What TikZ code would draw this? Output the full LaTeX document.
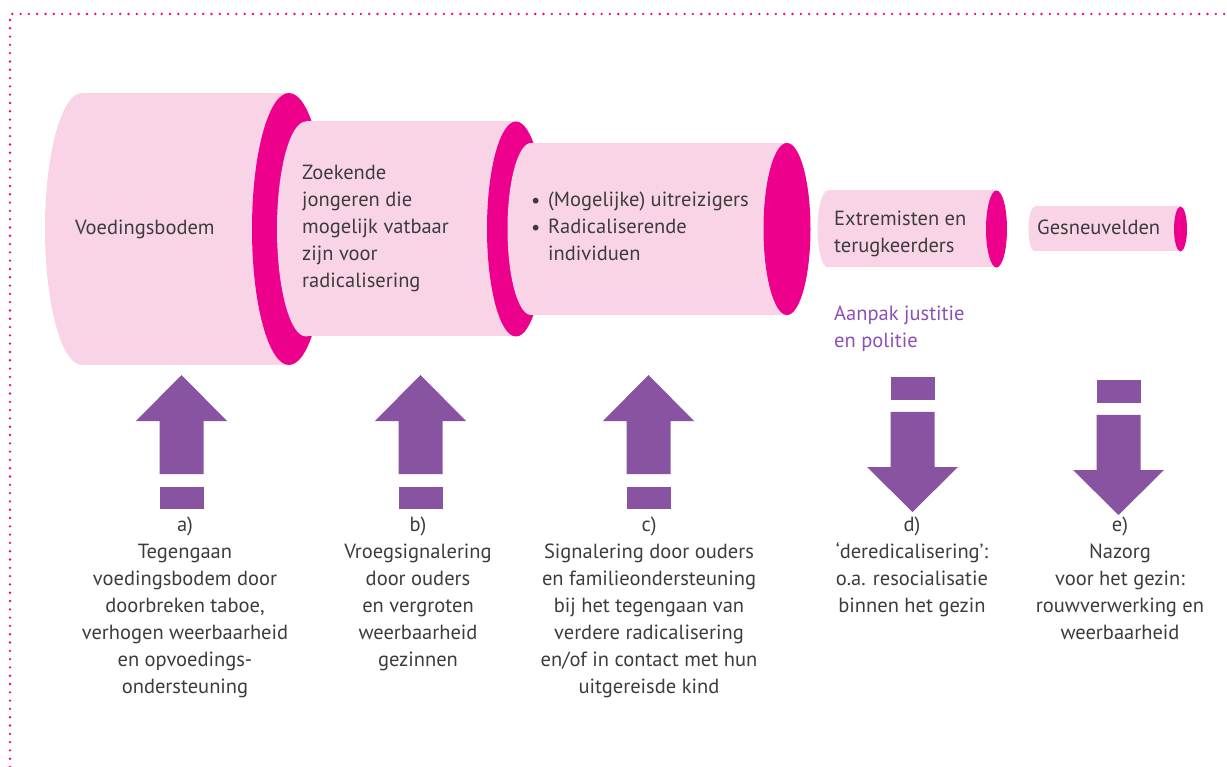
\documentclass[tikz,border=0pt]{standalone}
\usepackage{fontspec}
\setmainfont{PT Sans}
\definecolor{bodypink}{HTML}{F9D4E6}
\definecolor{ringmagenta}{HTML}{EC008C}
\definecolor{arrowpurple}{HTML}{8853A0}
\definecolor{textpurple}{HTML}{8E4FB3}
\definecolor{textgrey}{HTML}{3C3C3B}

\begin{document}
\begin{tikzpicture}
  [x=1pt,y=-1pt,every node/.style={inner sep=0pt,text=textgrey,font=\fontsize{20.5}{27}\selectfont}]
  \useasboundingbox (0,0) rectangle (1227,767);
  \draw[ringmagenta,line width=2.6pt,line cap=round,dash pattern=on 0pt off 8.3pt] (10,767) -- (10,14) -- (1227,14);

  % cylinders: left centre / right centre / radii
  \foreach \l/\r/\rx/\ry in {82/289/37/136,306/516/29/107.5,531/787/23.5/86,828/996.5/10.5/38.5,1035/1180.5/6.5/22.5}
  {
    \fill[bodypink] (\l,229) ellipse [x radius=\rx, y radius=\ry];
    \fill[bodypink] (\l,{229-\ry}) rectangle (\r,{229+\ry});
    \fill[ringmagenta] (\r,229) ellipse [x radius=\rx, y radius=\ry];
  }

  \foreach \x in {181.5,420.5,648.5}
  {
    \fill[arrowpurple] (\x,375) -- ++(45.5,46) -- ++(-23.5,0) -- ++(0,53) -- ++(-44,0) -- ++(0,-53) -- ++(-23.5,0) -- cycle;
    \fill[arrowpurple] ({\x-22},487) rectangle ({\x+22},509);
  }
  \foreach \x/\y in {912.5/377,1118.5/380}
  {
    \fill[arrowpurple] ({\x-22},\y) rectangle ({\x+22},{\y+23});
    \fill[arrowpurple] ({\x-22},{\y+35}) -- ++(0,55) -- ++(-23.5,0) -- ++(45.5,45) -- ++(45.5,-45) -- ++(-23.5,0) -- ++(0,-55) -- cycle;
  }

  % multi-line nodes sit on the baseline of their last line
  \node (voeding) [anchor=base west] at (75,235) {Voedingsbodem};
  \node (zoekend) [anchor=base west,align=left] at (302,288) {Zoekende\\jongeren die\\mogelijk vatbaar\\zijn voor\\radicalisering};
  \node (bul1) [anchor=base west] at (531,208) {\textbullet};
  \node (bul2) [anchor=base west] at (531,235) {\textbullet};
  \node (uitreis) [anchor=base west,align=left] at (548,261) {(Mogelijke) uitreizigers\\Radicaliserende\\individuen};
  \node (extrem) [anchor=base west,align=left] at (834,253) {Extremisten en\\terugkeerders};
  \node (gesneuv) [anchor=base west] at (1037,235) {Gesneuvelden};
  \node (justitie) [anchor=base west,align=left,text=textpurple] at (834,348) {Aanpak justitie\\en politie};

  \node (la) [anchor=base,align=center] at (185,693) {a)\\Tegengaan\\voedingsbodem door\\doorbreken taboe,\\verhogen weerbaarheid\\en opvoedings-\\ondersteuning};
  \node (lb) [anchor=base,align=center] at (418,666) {b)\\Vroegsignalering\\door ouders\\en vergroten\\weerbaarheid\\gezinnen};
  \node (lc) [anchor=base,align=center] at (649,693) {c)\\Signalering door ouders\\en familieondersteuning\\bij het tegengaan van\\verdere radicalisering\\en/of in contact met hun\\uitgereisde kind};
  \node (ld) [anchor=base,align=center] at (912,612) {d)\\‘deredicalisering’:\\o.a. resocialisatie\\binnen het gezin};
  \node (le) [anchor=base,align=center] at (1120,639) {e)\\Nazorg\\voor het gezin:\\rouwverwerking en\\weerbaarheid};

\end{tikzpicture}
\end{document}
